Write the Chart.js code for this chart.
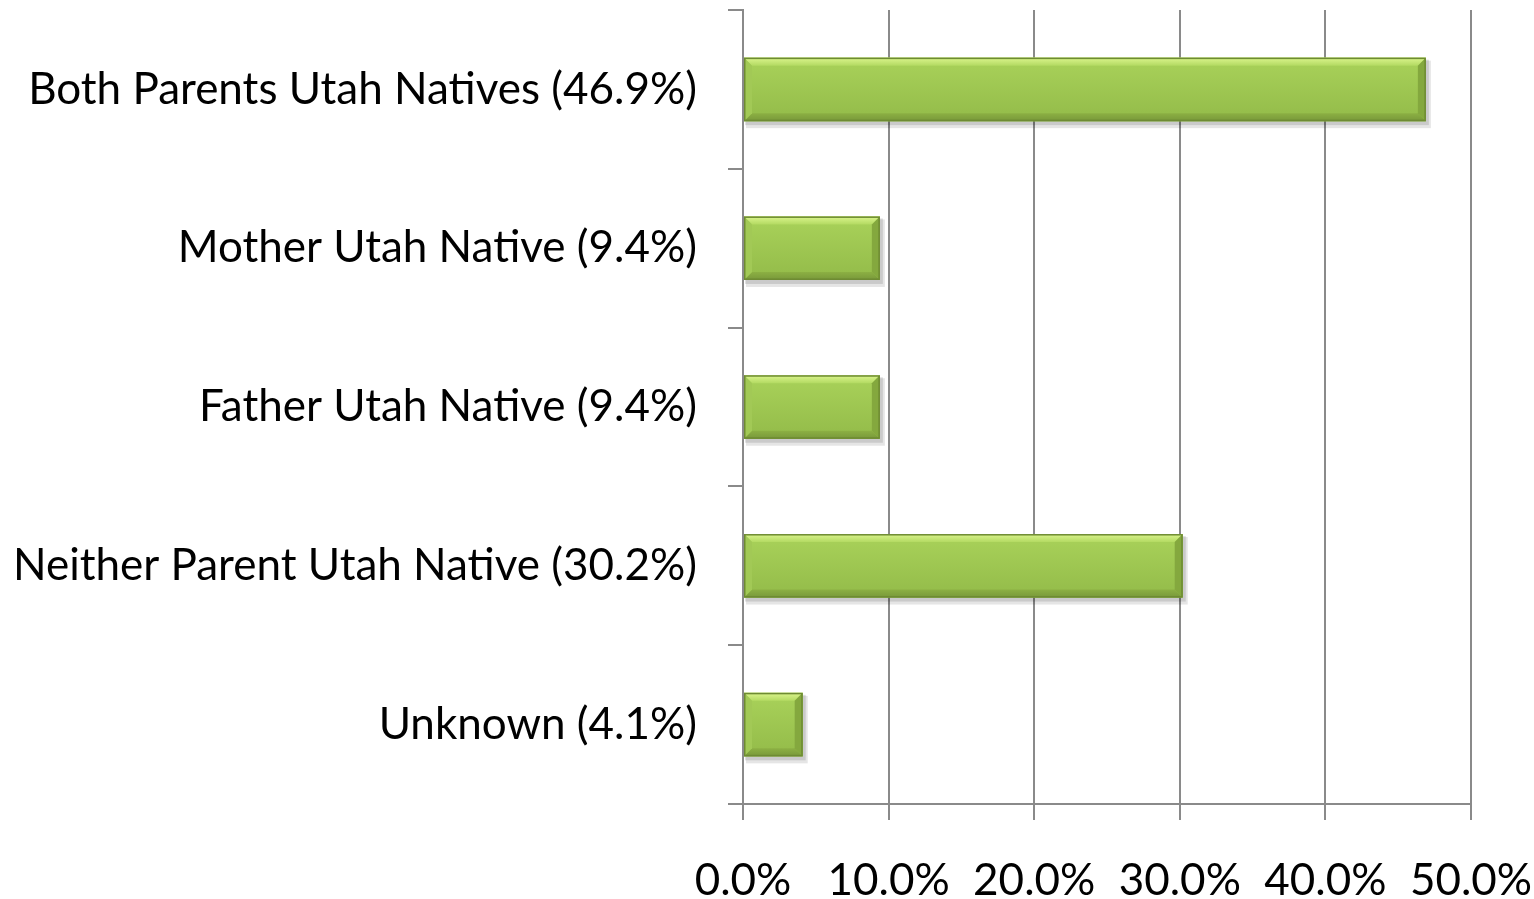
<!DOCTYPE html>
<html>
<head>
<meta charset="utf-8">
<script src="https://cdn.jsdelivr.net/npm/chart.js@4.4.1/dist/chart.umd.min.js"></script>
<style>
html,body{margin:0;padding:0;background:#fff;}
#wrap{width:1534px;height:899px;position:relative;}
</style>
</head>
<body>
<div id="wrap"><canvas id="c" width="1534" height="899"></canvas></div>
<script>
const categories = [
  "Both Parents Utah Natives (46.9%)",
  "Mother Utah Native (9.4%)",
  "Father Utah Native (9.4%)",
  "Neither Parent Utah Native (30.2%)",
  "Unknown (4.1%)"
];
const shares = [46.9, 9.4, 9.4, 30.2, 4.1];
const xTickMin = 0;
const xTickMax = 50;
const xTickStep = 10;

const FONT = "Lato, 'Liberation Sans', sans-serif";
const GRID = '#8a8a8a';

const bevelPlugin = {
  id: 'bevel',
  beforeDatasetsDraw(chart) {
    const ctx = chart.ctx;
    const meta = chart.getDatasetMeta(0);
    ctx.save();
    meta.data.forEach(el => {
      const p = el.getProps(['x', 'y', 'base', 'height'], true);
      const left = Math.min(p.base, p.x), right = Math.max(p.base, p.x);
      const top = p.y - p.height / 2;
      ctx.fillStyle = 'rgba(0,0,0,0.10)';
      ctx.fillRect(left + 2, top + 3, right - left + 3, p.height + 4);
      ctx.fillStyle = 'rgba(0,0,0,0.12)';
      ctx.fillRect(left + 1, top + 2, right - left + 2, p.height + 2);
    });
    ctx.restore();
  },
  afterDatasetsDraw(chart) {
    const ctx = chart.ctx;
    const meta = chart.getDatasetMeta(0);
    ctx.save();
    meta.data.forEach(el => {
      const p = el.getProps(['x', 'y', 'base', 'height'], true);
      const l = Math.min(p.base, p.x), r = Math.max(p.base, p.x);
      const t = p.y - p.height / 2, b = p.y + p.height / 2;
      const bv = 8;
      const g = ctx.createLinearGradient(0, t, 0, b);
      g.addColorStop(0, '#a9d25a');
      g.addColorStop(1, '#93bb49');
      ctx.fillStyle = g;
      ctx.fillRect(l, t, r - l, b - t);
      const poly = (pts, fill) => {
        ctx.beginPath();
        ctx.moveTo(pts[0][0], pts[0][1]);
        for (let i = 1; i < pts.length; i++) ctx.lineTo(pts[i][0], pts[i][1]);
        ctx.closePath();
        ctx.fillStyle = fill;
        ctx.fill();
      };
      const bw = Math.min(bv, (r - l) / 2);
      const gt = ctx.createLinearGradient(0, t, 0, t + bv);
      gt.addColorStop(0, '#dcf58e');
      gt.addColorStop(1, '#b3da62');
      poly([[l, t], [r, t], [r - bw, t + bv], [l + bw, t + bv]], gt);
      const gb = ctx.createLinearGradient(0, b - bv, 0, b);
      gb.addColorStop(0, '#8cb043');
      gb.addColorStop(1, '#78983a');
      poly([[l, b], [r, b], [r - bw, b - bv], [l + bw, b - bv]], gb);
      poly([[l, t], [l + bw, t + bv], [l + bw, b - bv], [l, b]], '#a2c956');
      poly([[r, t], [r - bw, t + bv], [r - bw, b - bv], [r, b]], '#84a83e');
      ctx.strokeStyle = '#6e8b33';
      ctx.lineWidth = 1.5;
      ctx.strokeRect(l + 0.75, t + 0.75, r - l - 1.5, b - t - 1.5);
    });
    ctx.restore();
  }
};

const xTicks = [];
for (let v = xTickMin; v <= xTickMax; v += xTickStep) xTicks.push(v);

new Chart(document.getElementById('c'), {
  type: 'bar',
  data: {
    labels: categories,
    datasets: [{
      data: shares,
      backgroundColor: '#9cc652',
      borderWidth: 0,
      barPercentage: 0.4,
      categoryPercentage: 1.0
    }]
  },
  plugins: [bevelPlugin],
  options: {
    indexAxis: 'y',
    responsive: false,
    animation: false,
    devicePixelRatio: 1,
    layout: { autoPadding: false, padding: { top: 10, right: 63, left: 0, bottom: 0 } },
    plugins: { legend: { display: false }, tooltip: { enabled: false } },
    scales: {
      x: {
        min: xTickMin,
        max: xTickMax,
        afterBuildTicks(scale) { scale.ticks = xTicks.map(v => ({ value: v })); },
        afterFit(scale) {
          scale.height = 95;
          scale.paddingLeft = 0; scale.paddingRight = 0;
          scale.paddingTop = 0; scale.paddingBottom = 0;
        },
        grid: { color: GRID, lineWidth: 2, drawTicks: true, tickLength: 16, tickColor: GRID },
        border: { display: true, color: GRID, width: 2 },
        ticks: {
          color: '#000',
          padding: 34,
          maxRotation: 0,
          autoSkip: false,
          font: { family: FONT, size: 44 },
          callback: v => v.toFixed(1) + '%'
        }
      },
      y: {
        afterFit(scale) {
          scale.width = 743;
          scale.paddingLeft = 0; scale.paddingRight = 0;
          scale.paddingTop = 0; scale.paddingBottom = 0;
        },
        grid: { display: true, drawOnChartArea: false, drawTicks: true, tickLength: 15, offset: true, color: GRID, lineWidth: 2, tickColor: GRID },
        border: { display: true, color: GRID, width: 2 },
        ticks: {
          color: '#000',
          padding: 31,
          autoSkip: false,
          font: { family: FONT, size: 44 }
        }
      }
    }
  }
});
</script>
</body>
</html>
